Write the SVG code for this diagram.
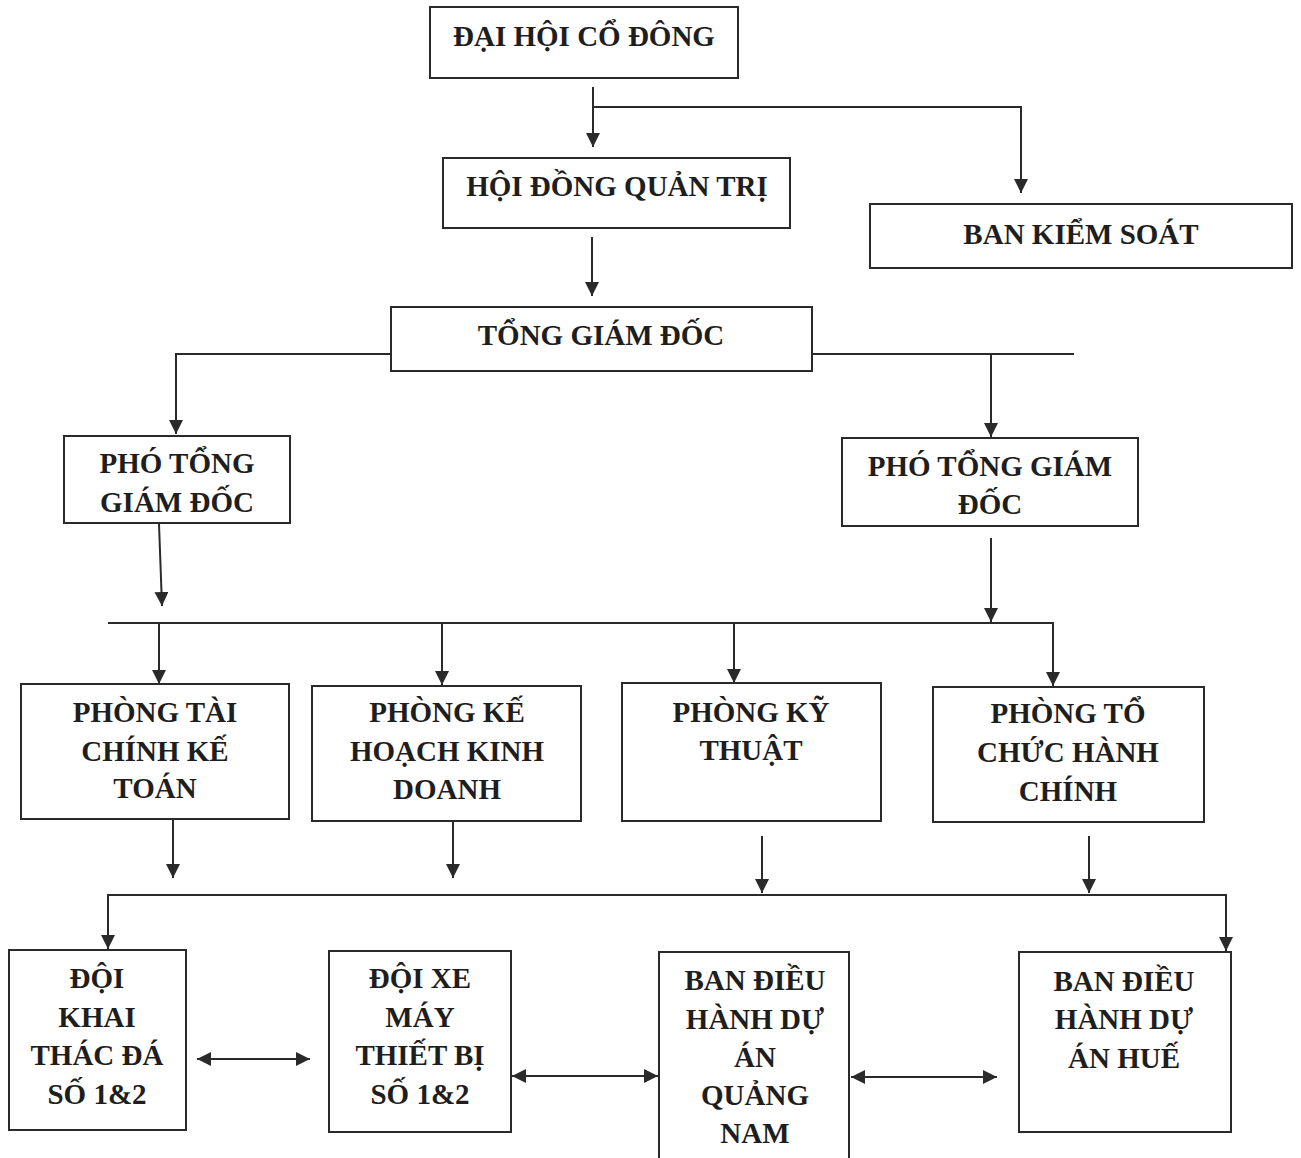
<svg xmlns="http://www.w3.org/2000/svg" width="1301" height="1158" viewBox="0 0 1301 1158">
<style>
.box{fill:#fff;stroke:#2a2a2a;stroke-width:2}
.t{font-family:"Liberation Serif","Times New Roman",serif;font-weight:bold;font-size:29px;fill:#1e1e1e;text-anchor:middle}
.c{fill:none;stroke:#2a2a2a;stroke-width:2}
</style>
<defs>
<marker id="ah" viewBox="0 0 14 14" refX="14" refY="7" markerWidth="14" markerHeight="14" markerUnits="userSpaceOnUse" orient="auto-start-reverse">
<path d="M0,0 L14,7 L0,14 Z" fill="#2a2a2a"/>
</marker>
</defs>
<rect width="1301" height="1158" fill="#fff"/>
<g id="connectors">
<path class="c" d="M593,87 V147" marker-end="url(#ah)"/>
<path class="c" d="M593,107 H1021 V193" marker-end="url(#ah)"/>
<path class="c" d="M592,237 V296" marker-end="url(#ah)"/>
<path class="c" d="M391,354 H176 V434" marker-end="url(#ah)"/>
<path class="c" d="M812,354 H1074"/>
<path class="c" d="M991,354 V437" marker-end="url(#ah)"/>
<path class="c" d="M159,524 L162,606" marker-end="url(#ah)"/>
<path class="c" d="M991,538 V622" marker-end="url(#ah)"/>
<path class="c" d="M108,623 H1053 V686" marker-end="url(#ah)"/>
<path class="c" d="M159,623 V684" marker-end="url(#ah)"/>
<path class="c" d="M442,623 V685" marker-end="url(#ah)"/>
<path class="c" d="M734,623 V683" marker-end="url(#ah)"/>
<path class="c" d="M173,820 V878" marker-end="url(#ah)"/>
<path class="c" d="M453,822 V878" marker-end="url(#ah)"/>
<path class="c" d="M762,836 V893" marker-end="url(#ah)"/>
<path class="c" d="M1089,836 V893" marker-end="url(#ah)"/>
<path class="c" d="M108,949 V895 H1226 V951" marker-start="url(#ah)" marker-end="url(#ah)"/>
<path class="c" d="M197,1059 H310" marker-start="url(#ah)" marker-end="url(#ah)"/>
<path class="c" d="M512,1076 H658" marker-start="url(#ah)" marker-end="url(#ah)"/>
<path class="c" d="M851,1077 H997" marker-start="url(#ah)" marker-end="url(#ah)"/>
</g>
<g id="dai-hoi-co-dong"><rect class="box" x="430" y="7" width="308" height="71"/><text class="t" x="584" y="46">ĐẠI HỘI CỔ ĐÔNG</text></g>
<g id="hoi-dong-quan-tri"><rect class="box" x="443" y="158" width="347" height="70"/><text class="t" x="617" y="196">HỘI ĐỒNG QUẢN TRỊ</text></g>
<g id="ban-kiem-soat"><rect class="box" x="870" y="204" width="422" height="64"/><text class="t" x="1081" y="244">BAN KIỂM SOÁT</text></g>
<g id="tong-giam-doc"><rect class="box" x="391" y="307" width="421" height="64"/><text class="t" x="601" y="345">TỔNG GIÁM ĐỐC</text></g>
<g id="pho-tgd-1"><rect class="box" x="64" y="436" width="226" height="87"/><text class="t" x="177" y="473">PHÓ TỔNG</text><text class="t" x="177" y="512">GIÁM ĐỐC</text></g>
<g id="pho-tgd-2"><rect class="box" x="842" y="438" width="296" height="88"/><text class="t" x="990" y="476">PHÓ TỔNG GIÁM</text><text class="t" x="990" y="514">ĐỐC</text></g>
<g id="phong-tckt"><rect class="box" x="21" y="684" width="268" height="135"/><text class="t" x="155" y="722">PHÒNG TÀI</text><text class="t" x="155" y="761">CHÍNH KẾ</text><text class="t" x="155" y="798">TOÁN</text></g>
<g id="phong-khkd"><rect class="box" x="312" y="686" width="269" height="135"/><text class="t" x="447" y="722">PHÒNG KẾ</text><text class="t" x="447" y="761">HOẠCH KINH</text><text class="t" x="447" y="799">DOANH</text></g>
<g id="phong-kt"><rect class="box" x="622" y="683" width="259" height="138"/><text class="t" x="751" y="722">PHÒNG KỸ</text><text class="t" x="751" y="760">THUẬT</text></g>
<g id="phong-tchc"><rect class="box" x="933" y="687" width="271" height="135"/><text class="t" x="1068" y="723">PHÒNG TỔ</text><text class="t" x="1068" y="762">CHỨC HÀNH</text><text class="t" x="1068" y="801">CHÍNH</text></g>
<g id="doi-khai-thac"><rect class="box" x="9" y="950" width="177" height="180"/><text class="t" x="97" y="988">ĐỘI</text><text class="t" x="97" y="1027">KHAI</text><text class="t" x="97" y="1065">THÁC ĐÁ</text><text class="t" x="97" y="1104">SỐ 1&amp;2</text></g>
<g id="doi-xe-may"><rect class="box" x="329" y="951" width="182" height="181"/><text class="t" x="420" y="988">ĐỘI XE</text><text class="t" x="420" y="1027">MÁY</text><text class="t" x="420" y="1065">THIẾT BỊ</text><text class="t" x="420" y="1104">SỐ 1&amp;2</text></g>
<g id="ban-dh-quang-nam"><rect class="box" x="659" y="952" width="190" height="214"/><text class="t" x="755" y="990">BAN ĐIỀU</text><text class="t" x="755" y="1029">HÀNH DỰ</text><text class="t" x="755" y="1067">ÁN</text><text class="t" x="755" y="1105">QUẢNG</text><text class="t" x="755" y="1143">NAM</text></g>
<g id="ban-dh-hue"><rect class="box" x="1019" y="952" width="212" height="180"/><text class="t" x="1124" y="991">BAN ĐIỀU</text><text class="t" x="1124" y="1029">HÀNH DỰ</text><text class="t" x="1124" y="1068">ÁN HUẾ</text></g>
</svg>
